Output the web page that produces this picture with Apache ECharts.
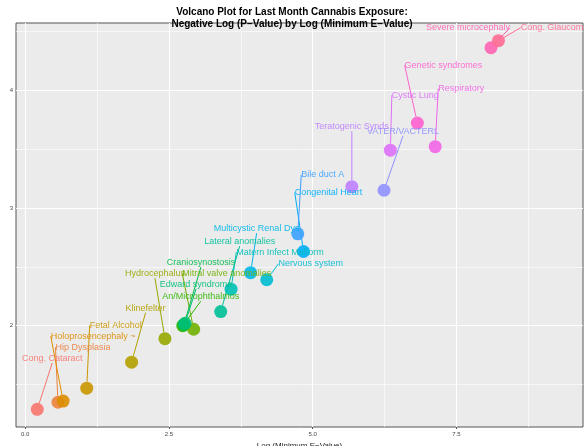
<!DOCTYPE html>
<html><head><meta charset="utf-8">
<script src="https://cdn.jsdelivr.net/npm/echarts@6/dist/echarts.min.js"></script>
<style>html,body{margin:0;padding:0;background:#fff}#c{width:584px;height:446px}</style>
</head><body><div id="c"></div>
<script>
// anomaly names, log(min E-value), -log(p-value)
const names = ["Cong. Cataract", "Hip Dysplasia", "Holoprosencephaly ~", "Fetal Alcohol", "Klinefelter",
  "Hydrocephalus", "Mitral valve anomalies", "An/Microphthalmos", "Craniosynostosis", "Edward syndrome",
  "Lateral anomalies", "Matern Infect Malform", "Nervous system", "Multicystic Renal Dys", "Congenital Heart",
  "Bile duct A", "VATER/VACTERL", "Teratogenic Synds", "Cystic Lung", "Respiratory", "Genetic syndromes",
  "Severe microcephaly", "Cong. Glaucoma"];
const logE = [0.21, 0.57, 0.66, 1.07, 1.85, 2.43, 2.93, 2.74, 2.76, 2.78, 3.40, 3.58, 4.20, 3.92, 4.84,
  4.74, 6.24, 5.68, 6.35, 7.13, 6.82, 8.10, 8.23];
const negLogP = [1.29, 1.35, 1.36, 1.47, 1.69, 1.89, 1.97, 2.00, 2.01, 2.02, 2.12, 2.31, 2.39, 2.45, 2.63,
  2.78, 3.15, 3.18, 3.49, 3.52, 3.72, 4.36, 4.42];
const xTicks = [0, 2.5, 5, 7.5];
const xGrid = [0, 1.25, 2.5, 3.75, 5, 6.25, 7.5, 8.75];
const yTicks = [2, 3, 4];
const yGrid = [1.5, 2, 2.5, 3, 3.5, 4, 4.5];
// label displacement in px (dx, dy)
const labelShift = [[15,-51],[25,-55],[30,-65],[29,-63],[14,-54],[-10,-65],[33,-56],[18,-29],[17,-62],[11,-39],
  [19,-70],[49,-37],[44,-16],[6,-44],[25,-59],[25,-59],[19,-59],[0,-60],[25,-55],[26,-58],[26,-58],[-23,-20],[56,-13]];

function hcl(h, c, l) {
  const hr = h * Math.PI / 180, U = c * Math.cos(hr), V = c * Math.sin(hr);
  const Xn = 95.047, Yn = 100, Zn = 108.883;
  const un = 4 * Xn / (Xn + 15 * Yn + 3 * Zn), vn = 9 * Yn / (Xn + 15 * Yn + 3 * Zn);
  const Y = l > 8 ? Yn * Math.pow((l + 16) / 116, 3) : Yn * l / 903.3;
  const u = U / (13 * l) + un, v = V / (13 * l) + vn;
  const X = 9 * Y * u / (4 * v), Z = X * (12 - 3 * u - 20 * v) / (9 * u);
  const x = X / 100, y = Y / 100, z = Z / 100;
  const lin = [3.2406*x - 1.5372*y - 0.4986*z, -0.9689*x + 1.8758*y + 0.0415*z, 0.0557*x - 0.2040*y + 1.0570*z];
  const g = lin.map(t => { t = t <= 0.0031308 ? 12.92 * t : 1.055 * Math.pow(t, 1/2.4) - 0.055; return Math.round(Math.max(0, Math.min(1, t)) * 255); });
  return 'rgb(' + g.join(',') + ')';
}
const n = names.length;
const colors = names.map((_, i) => hcl(15 + 360 * i / n, 100, 65));

const data = names.map((nm, i) => ({
  name: nm, value: [logE[i], negLogP[i]],
  itemStyle: { color: colors[i] },
  label: { color: colors[i] },
  labelLine: { lineStyle: { color: colors[i] } }
}));

const chart = echarts.init(document.getElementById('c'));
chart.setOption({
  animation: false,
  title: {
    text: 'Volcano Plot for Last Month Cannabis Exposure:\nNegative Log (P\u2212Value) by Log (Minimum E\u2212Value)',
    left: 'center', top: 1,
    textStyle: { fontSize: 10, fontWeight: 'bold', color: '#000', lineHeight: 12, fontFamily: 'Liberation Sans' }
  },
  grid: { left: 16, right: 1, top: 23, bottom: 19, outerBoundsMode: 'none', containLabel: false,
    show: true, backgroundColor: '#EBEBEB', borderColor: '#555', borderWidth: 1 },
  xAxis: {
    type: 'value', min: -0.16, max: 9.7,
    name: 'Log (Minimum E\u2212Value)', nameLocation: 'middle', nameGap: 11,
    nameTextStyle: { fontSize: 8, color: '#222' },
    axisLine: { show: false },
    axisTick: { show: true, length: 2, customValues: xTicks, lineStyle: { color: '#555' } },
    axisLabel: { fontSize: 6, color: '#444', margin: 4, customValues: xTicks, formatter: v => v.toFixed(1) },
    splitLine: { show: false }
  },
  yAxis: {
    type: 'value', min: 1.14, max: 4.57,
    name: 'Negative Log (P\u2212Value)', nameLocation: 'middle', nameGap: 9,
    nameTextStyle: { fontSize: 8, color: '#222' },
    axisLine: { show: false },
    axisTick: { show: true, length: 2, customValues: yTicks, lineStyle: { color: '#555' } },
    axisLabel: { fontSize: 6, color: '#444', margin: 3, customValues: yTicks },
    splitLine: { show: false }
  },
  series: [{
    type: 'scatter', symbolSize: 13, data: data, z: 3,
    itemStyle: { opacity: 0.9 },
    label: { show: true, formatter: '{b}', fontSize: 9, fontFamily: 'Liberation Sans', position: 'inside' },
    labelLine: { show: true, lineStyle: { width: 1 } },
    labelLayout: p => ({ dx: labelShift[p.dataIndex][0], dy: labelShift[p.dataIndex][1] }),
    markLine: {
      silent: true, symbol: 'none', label: { show: false }, z: 1,
      data: xGrid.map(v => ({ xAxis: v, lineStyle: { color: '#fff', type: 'solid', width: xTicks.includes(v) ? 1.1 : 0.6 } }))
        .concat(yGrid.map(v => ({ yAxis: v, lineStyle: { color: '#fff', type: 'solid', width: yTicks.includes(v) ? 1.1 : 0.6 } })))
    }
  }]
});
</script></body></html>
